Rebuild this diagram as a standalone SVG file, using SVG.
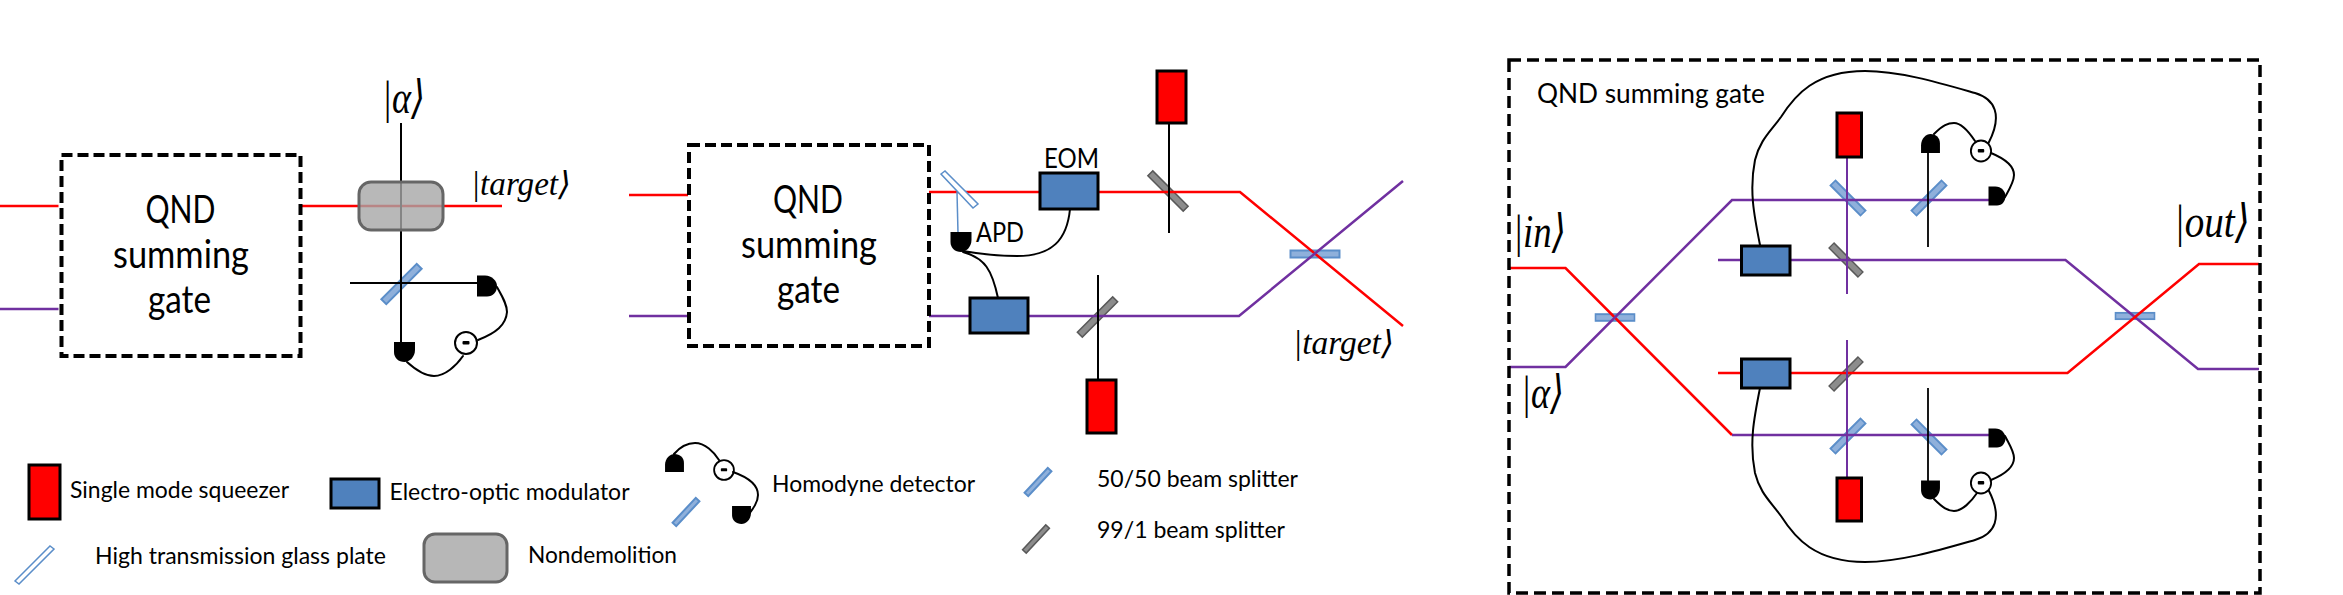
<svg xmlns="http://www.w3.org/2000/svg" width="2343" height="595" viewBox="0 0 2343 595">
<style>
text{fill:#000;font-family:"Lato","Open Sans","Liberation Sans",sans-serif}
.big{font-size:38px}.mid{font-size:26px}.leg{font-size:23px}
.m{font-family:"Liberation Serif","DejaVu Serif",serif;font-style:italic}
.ma{font-size:46px}.mt{font-size:33px}
.frame{fill:none;stroke:#000;stroke-width:4;stroke-dasharray:11 5}
.fr3{fill:none;stroke:#000;stroke-width:3.5;stroke-dasharray:12 6}
.red{fill:none;stroke:#f00;stroke-width:2.5}
.pur{fill:none;stroke:#7030a0;stroke-width:2.5}
.pur2{fill:none;stroke:#7030a0;stroke-width:2}
.blk{fill:none;stroke:#000;stroke-width:2}
.wire{fill:none;stroke:#000;stroke-width:2;stroke-linecap:round}
.thin{fill:none;stroke:#5b8ec9;stroke-width:1.5}
.sq{fill:#f00;stroke:#000;stroke-width:3}
.eom{fill:#4f81bd;stroke:#000;stroke-width:3}
.bs{fill:#8fb0db;stroke:#5b8ec9;stroke-width:2}
.gbs{fill:#8c8c8c;stroke:#595959;stroke-width:1.5}
.gp{fill:#fff;stroke:#5b8ec9;stroke-width:1.5}
.nd{fill:#a6a6a6;fill-opacity:.8;stroke:#666;stroke-width:3}
.sub{fill:#fff;stroke:#000;stroke-width:2}
</style>
<defs>
<path id="det" d="M-10.5-10H10.5V-2C10.5 5 5 10 0 10C-6 10-10.5 6-10.5 0Z"/>
<rect id="bsr" class="bs" x="-25" y="-3.5" width="50" height="7"/>
<rect id="gbr" class="gbs" x="-25" y="-3.5" width="50" height="7"/>
<g id="sub"><circle class="sub" r="11"/><rect x="-3.5" y="-2" width="7" height="3.5" rx="1"/></g>
</defs>

<g id="beam-splitters">
<use id="bs1" href="#bsr" transform="translate(401.5,284) rotate(-45)"/>
<use id="bs2" href="#bsr" transform="translate(1315,254) scale(.98,1)"/>
<use id="bs3" href="#gbr" transform="translate(1168,191) rotate(45)"/>
<use id="bs4" href="#gbr" transform="translate(1097.5,317) rotate(-45)"/>
<use id="bs5" href="#bsr" transform="translate(1615,317.500) scale(.78,.95)"/>
<use id="bs6" href="#bsr" transform="translate(2135,316) scale(.78,.9)"/>
<use id="bs7" href="#bsr" transform="translate(1848,198) rotate(45) scale(.85,1)"/>
<use id="bs8" href="#bsr" transform="translate(1929,198) rotate(-45) scale(.85,1)"/>
<use id="bs9" href="#gbr" transform="translate(1846,260) rotate(45) scale(.82,1)"/>
<use id="bs10" href="#gbr" transform="translate(1846,374) rotate(-45) scale(.82,1)"/>
<use id="bs11" href="#bsr" transform="translate(1848,436) rotate(-45) scale(.85,1)"/>
<use id="bs12" href="#bsr" transform="translate(1929,437) rotate(45) scale(.85,1)"/>
</g>

<g id="connectors">
<path class="red" d="M0 206H58.500M302 206H502"/>
<path class="pur" d="M0 309H58.500"/>
<path class="blk" d="M401 123V342M350 283H477"/>
<path class="wire" d="M407 362C418 372 426 376 434 376C445 376 456 366 463 356M478 340C496 333 506 325 507 312C507 304 502 296 497 287"/>
<path class="red" d="M629 195H688M929 192H1240L1403 326"/>
<path class="pur" d="M629 316H688M929 316H1239L1403 181"/>
<path class="blk" d="M1169 123V233M1098 275V380"/>
<path class="thin" d="M957 192L958 233"/>
<path class="wire" d="M1070 209C1067 240 1052 256 1017 256C1000 256 980 254 963 251M963 252C985 258 992 270 998 298"/>
<path class="red" d="M1509 268H1565.500L1732 435"/>
<path class="pur" d="M1732 435H1989M1509 367H1565.500L1732 200H1989M1718 260H2065.500L2198 369H2259"/>
<path class="red" d="M1718 373H2067.500L2199 264H2259"/>
<path class="pur2" d="M1847 157V294M1847 340V478"/>
<path class="blk" style="stroke-width:1.800" d="M1928 152V247M1928 388V482"/>
<path class="wire" d="M1934 134C1943 125 1948 123 1954 123C1962 123 1969 132 1975 141M1991 153C2008 160 2014 167 2014 175C2014 182 2009 190 2005 197M1760 245C1754 215 1749 190 1755 160C1760 140 1770 132 1781 117C1795 95 1815 71 1865 71C1900 71 1940 83 1975 93C1995 99 2003 115 1988.500 143"/>
<path class="wire" d="M1934 499C1943 508 1948 511 1954 511C1962 511 1971 502 1977 493M1991 480C2008 473 2014 466 2014 458C2014 451 2009 444 2005 436M1760 388C1754 418 1749 443 1755 473C1760 493 1770 501 1781 516C1795 538 1815 562 1865 562C1900 562 1940 550 1975 540C1995 534 2003 518 1988.500 490"/>
</g>

<g id="gate-a"><rect class="frame" x="61.500" y="155" width="239" height="201"/>
<text class="big" x="145.500" y="223" textLength="70" lengthAdjust="spacingAndGlyphs">QND</text>
<text class="big" x="113" y="268" textLength="136" lengthAdjust="spacingAndGlyphs">summing</text>
<text class="big" x="148" y="313" textLength="63" lengthAdjust="spacingAndGlyphs">gate</text></g>
<g id="nondem-a"><rect class="nd" x="359" y="182" width="84" height="48" rx="12"/></g>
<g id="det-a1"><use href="#det" transform="translate(487,286) rotate(-90)"/></g>
<g id="det-a2"><use href="#det" transform="translate(404.500,352)"/></g>
<g id="sub-a"><use href="#sub" transform="translate(466,343)"/></g>
<g id="label-a"><text class="m ma" x="382" y="113" textLength="43" lengthAdjust="spacingAndGlyphs">|α⟩</text>
<text class="m mt" x="471" y="195" textLength="100" lengthAdjust="spacingAndGlyphs">|target⟩</text></g>

<g id="gate-b"><rect class="frame" x="689" y="145" width="240" height="201"/>
<text class="big" x="773" y="213" textLength="70" lengthAdjust="spacingAndGlyphs">QND</text>
<text class="big" x="741" y="258" textLength="136" lengthAdjust="spacingAndGlyphs">summing</text>
<text class="big" x="777" y="303" textLength="63" lengthAdjust="spacingAndGlyphs">gate</text></g>
<g id="glass-b"><polygon class="gp" points="941,174 945,171 978,204 973,208"/></g>
<g id="apd"><use href="#det" transform="translate(961,242)"/><text class="mid" x="976" y="242" textLength="48" lengthAdjust="spacingAndGlyphs">APD</text></g>
<g id="eom-b1"><rect class="eom" x="1040" y="173" width="58" height="36"/><text class="mid" x="1044" y="168" textLength="55" lengthAdjust="spacingAndGlyphs">EOM</text></g>
<g id="eom-b2"><rect class="eom" x="970" y="298" width="58" height="35"/></g>
<g id="sq-b1"><rect class="sq" x="1157" y="71" width="29" height="52"/></g>
<g id="sq-b2"><rect class="sq" x="1087" y="380" width="29" height="53"/></g>
<g id="label-b"><text class="m mt" x="1293" y="354" textLength="101" lengthAdjust="spacingAndGlyphs">|target⟩</text></g>

<g id="gate-c"><rect class="fr3" x="1509" y="60" width="751" height="533"/>
<text class="mid" x="1537" y="103" textLength="228" lengthAdjust="spacingAndGlyphs">QND summing gate</text>
<text class="m ma" x="1513" y="247" textLength="53" lengthAdjust="spacingAndGlyphs">|in⟩</text>
<text class="m ma" x="2174" y="237" textLength="76" lengthAdjust="spacingAndGlyphs">|out⟩</text>
<text class="m ma" x="1521" y="408" textLength="43" lengthAdjust="spacingAndGlyphs">|α⟩</text></g>
<g id="sq-c1"><rect class="sq" x="1837" y="113" width="24.500" height="44"/></g>
<g id="sq-c2"><rect class="sq" x="1837" y="478" width="24.500" height="43"/></g>
<g id="eom-c1"><rect class="eom" x="1741.500" y="246" width="48.500" height="29"/></g>
<g id="eom-c2"><rect class="eom" x="1741.500" y="359" width="48.500" height="29"/></g>
<g id="det-c1"><use href="#det" transform="translate(1930.500,143.500) rotate(180) scale(.9,.95)"/></g>
<g id="det-c2"><use href="#det" transform="translate(1997,196) rotate(-90) scale(.9,.85)"/></g>
<g id="det-c3"><use href="#det" transform="translate(1930.500,490) scale(.9,.95)"/></g>
<g id="det-c4"><use href="#det" transform="translate(1997,438) rotate(-90) scale(.9,.85)"/></g>
<g id="sub-c1"><use href="#sub" transform="translate(1981,151) scale(.92,.95)"/></g>
<g id="sub-c2"><use href="#sub" transform="translate(1981,483) scale(.92,.95)"/></g>

<g id="legend">
<g id="leg-sq"><rect class="sq" x="29" y="465" width="31" height="54"/><text class="leg" x="70" y="498" textLength="219" lengthAdjust="spacingAndGlyphs">Single mode squeezer</text></g>
<g id="leg-eom"><rect class="eom" x="331" y="479" width="48" height="29"/><text class="leg" x="389.500" y="500" textLength="240" lengthAdjust="spacingAndGlyphs">Electro-optic modulator</text></g>
<g id="leg-hom"><use href="#det" transform="translate(674.500,463) rotate(180) scale(.9,.9)"/><use href="#det" transform="translate(741.500,515) scale(.9,.9)"/>
<use href="#sub" transform="translate(724,470) scale(.9)"/>
<path class="wire" d="M674 454C680 447 688 443 695 443C705 443 714 452 719 460M733 472C750 478 758 485 758 495C758 503 752 510 746 518"/>
<rect class="bs" x="-17" y="-2.500" width="34" height="5" transform="translate(686,512) rotate(-47)"/>
<text class="leg" x="772" y="492" textLength="203" lengthAdjust="spacingAndGlyphs">Homodyne detector</text></g>
<g id="leg-bs"><rect class="bs" x="-17" y="-2.500" width="34" height="5" transform="translate(1038,482) rotate(-47)"/><text class="leg" x="1097" y="487" textLength="201" lengthAdjust="spacingAndGlyphs">50/50 beam splitter</text></g>
<g id="leg-gbs"><rect class="gbs" x="-17" y="-2.500" width="34" height="5" transform="translate(1036,539) rotate(-47)"/><text class="leg" x="1097" y="538" textLength="188" lengthAdjust="spacingAndGlyphs">99/1 beam splitter</text></g>
<g id="leg-gp"><polygon class="gp" points="15,581 50,546 54,549 19,584"/><text class="leg" x="95" y="564" textLength="291" lengthAdjust="spacingAndGlyphs">High transmission glass plate</text></g>
<g id="leg-nd"><rect class="nd" style="fill:#b7b7b7;fill-opacity:1" x="424" y="534" width="83" height="48" rx="11"/><text class="leg" x="528" y="563" textLength="149" lengthAdjust="spacingAndGlyphs">Nondemolition</text></g>
</g>
</svg>
